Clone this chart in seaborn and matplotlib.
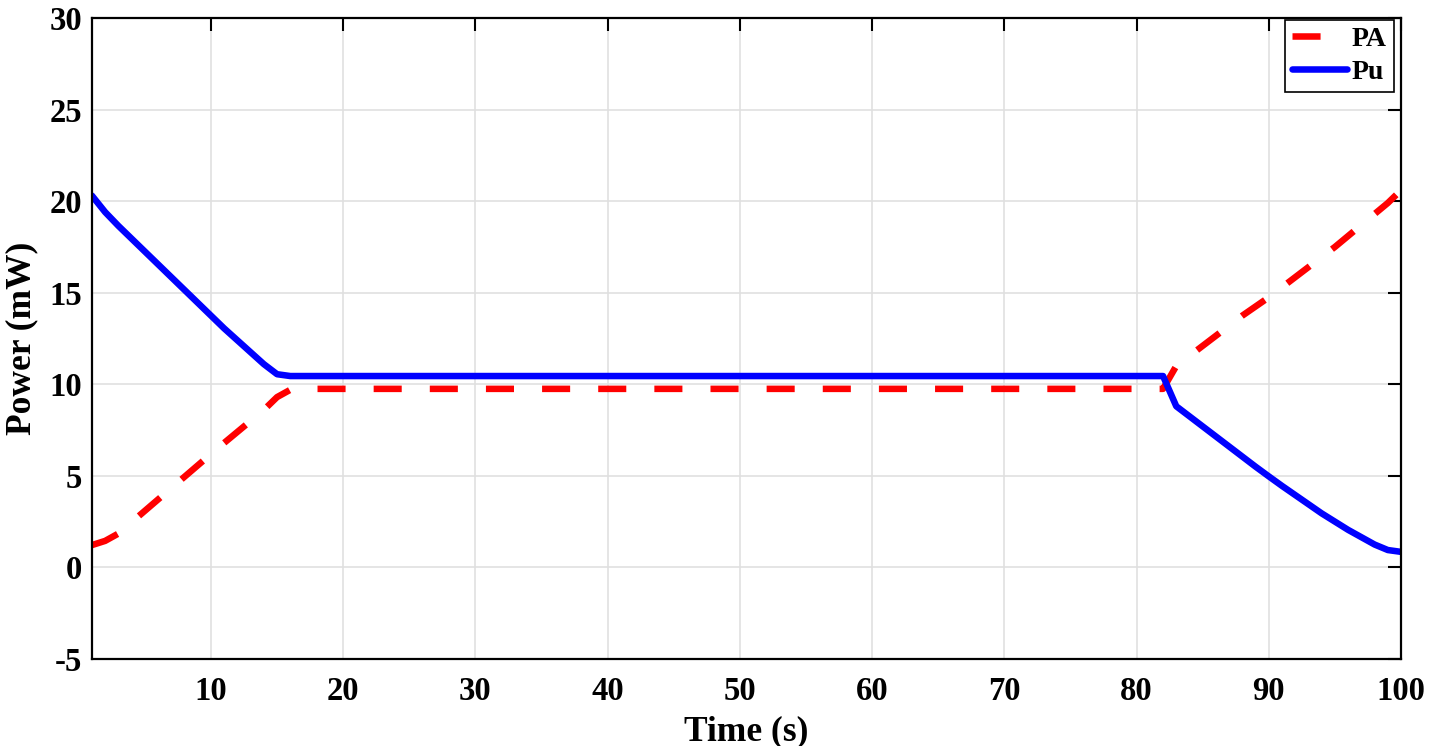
import numpy as np
import pandas as pd
import matplotlib
matplotlib.use("Agg")
import matplotlib.pyplot as plt
import seaborn as sns

# ---- data ----
time = [1, 2, 3, 4, 5, 6, 7, 8, 9, 10, 11, 12, 13, 14, 15, 16, 17,
        82, 83, 84, 85, 86, 87, 88, 89, 90, 91, 92, 93, 94, 95, 96, 97, 98, 99, 100]
pa = [1.22, 1.45, 1.85, 2.47, 3.09, 3.71, 4.33, 4.95, 5.57, 6.19, 6.80, 7.40, 8.00, 8.60, 9.30, 9.70, 9.75,
      9.75, 11.00, 11.55, 12.10, 12.65, 13.20, 13.75, 14.25, 14.75, 15.30, 15.85, 16.40, 16.95, 17.50, 18.10,
      18.70, 19.30, 19.90, 20.60]
pu = [20.30, 19.40, 18.65, 17.95, 17.25, 16.55, 15.85, 15.15, 14.45, 13.75, 13.05, 12.40, 11.75, 11.10, 10.55, 10.45, 10.45,
      10.45, 8.80, 8.25, 7.70, 7.15, 6.60, 6.05, 5.50, 4.97, 4.45, 3.95, 3.45, 2.95, 2.50, 2.05,
      1.65, 1.25, 0.95, 0.85]
series_labels = ["PA", "Pu"]
x_ticks = [10, 20, 30, 40, 50, 60, 70, 80, 90, 100]
y_ticks = [-5, 0, 5, 10, 15, 20, 25, 30]

df = pd.DataFrame({"Time": time, "PA": pa, "Pu": pu})

sns.set_theme(style="white")
plt.rcParams["font.family"] = ["Liberation Serif", "DejaVu Serif"]
plt.rcParams["font.weight"] = "bold"
plt.rcParams["axes.labelweight"] = "bold"
plt.rcParams["text.color"] = "black"
plt.rcParams["axes.labelcolor"] = "black"
plt.rcParams["xtick.color"] = "black"
plt.rcParams["ytick.color"] = "black"
plt.rcParams["axes.unicode_minus"] = False

fig = plt.figure(figsize=(14.32, 7.46), dpi=100)
ax = fig.add_axes([0.0642, 0.1166, 0.9784 - 0.0642, 0.9759 - 0.1166])

lw = 4.7
sns.lineplot(data=df, x="Time", y="PA", ax=ax, color="#ff0000", linewidth=lw,
             label=series_labels[0])
sns.lineplot(data=df, x="Time", y="Pu", ax=ax, color="#0000ff", linewidth=lw,
             label=series_labels[1])
ax.lines[0].set_dashes((4.3, 4.3))
ax.lines[0].set_dash_capstyle("butt")

ax.set_xlim(1, 100)
ax.set_ylim(-5, 30)
ax.set_xticks(x_ticks)
ax.set_yticks(y_ticks)
ax.grid(True, color="#e0e0e0", linewidth=1.2)
ax.set_axisbelow(True)
for s in ax.spines.values():
    s.set_visible(True)
    s.set_color("black")
    s.set_linewidth(1.6)
ax.tick_params(direction="in", length=9.5, width=1.5, top=True, right=True,
               labelsize=23.5, colors="black")
ax.tick_params(axis="x", pad=12)
ax.tick_params(axis="y", pad=7)
for lab in ax.get_xticklabels() + ax.get_yticklabels():
    lab.set_fontweight("bold")
    lab.set_color("black")
ax.set_xlabel("Time (s)", fontsize=25.5, fontweight="bold", labelpad=6, color="black")
ax.set_ylabel("Power (mW)", fontsize=25.5, fontweight="bold", labelpad=8, color="black")

leg = ax.legend(loc="upper right", bbox_to_anchor=(1393.5 / 1432, 1 - 19.5 / 746),
                bbox_transform=fig.transFigure, borderaxespad=0,
                prop={"family": "Liberation Serif", "weight": "bold", "size": 20},
                handlelength=2.0, handletextpad=0.15, labelspacing=0.28,
                borderpad=0.25, fancybox=False, frameon=True, framealpha=1)
leg.get_frame().set_edgecolor("black")
leg.get_frame().set_linewidth(1.2)
leg_lines = leg.get_lines()
leg_lines[0].set_dashes((4.3, 12))
for t in leg.get_texts():
    t.set_color("black")

fig.savefig("out.png", dpi=100)
